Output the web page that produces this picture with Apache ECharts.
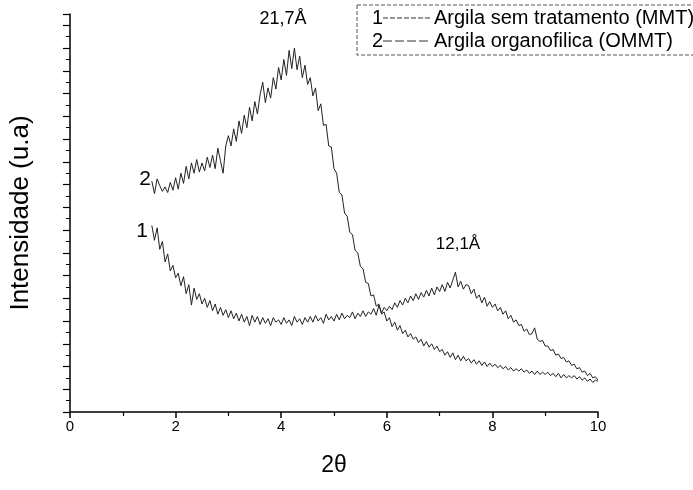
<!DOCTYPE html>
<html>
<head>
<meta charset="utf-8">
<script src="https://cdn.jsdelivr.net/npm/echarts@6/dist/echarts.min.js"></script>
<style>html,body{margin:0;padding:0;background:#fff}#c{width:693px;height:490px}</style>
</head>
<body>
<div id="c"></div>
<script>
var twoTheta = [
 1.55,1.60,1.65,1.70,1.75,1.80,1.85,1.90,1.95,2.00,
 2.05,2.10,2.15,2.20,2.25,2.30,2.35,2.40,2.45,2.50,
 2.55,2.60,2.65,2.70,2.75,2.80,2.85,2.90,2.95,3.00,
 3.05,3.10,3.15,3.20,3.25,3.30,3.35,3.40,3.45,3.50,
 3.55,3.60,3.65,3.70,3.75,3.80,3.85,3.90,3.95,4.00,
 4.05,4.10,4.15,4.20,4.25,4.30,4.35,4.40,4.45,4.50,
 4.55,4.60,4.65,4.70,4.75,4.80,4.85,4.90,4.95,5.00,
 5.05,5.10,5.15,5.20,5.25,5.30,5.35,5.40,5.45,5.50,
 5.55,5.60,5.65,5.70,5.75,5.80,5.85,5.90,5.95,6.00,
 6.05,6.10,6.15,6.20,6.25,6.30,6.35,6.40,6.45,6.50,
 6.55,6.60,6.65,6.70,6.75,6.80,6.85,6.90,6.95,7.00,
 7.05,7.10,7.15,7.20,7.25,7.30,7.35,7.40,7.45,7.50,
 7.55,7.60,7.65,7.70,7.75,7.80,7.85,7.90,7.95,8.00,
 8.05,8.10,8.15,8.20,8.25,8.30,8.35,8.40,8.45,8.50,
 8.55,8.60,8.65,8.70,8.75,8.80,8.85,8.90,8.95,9.00,
 9.05,9.10,9.15,9.20,9.25,9.30,9.35,9.40,9.45,9.50,
 9.55,9.60,9.65,9.70,9.75,9.80,9.85,9.90,9.95,10.00
];
// 1 - Argila sem tratamento (MMT)
var intensityMMT = [
 16.4,15.1,16.2,14.3,15.0,13.2,13.9,12.4,12.9,11.8,
 12.2,11.1,11.9,10.4,11.2,9.4,10.9,9.9,10.4,9.5,
 10.0,9.2,9.8,8.9,9.5,8.6,9.2,8.5,9.0,8.3,
 8.9,8.2,8.7,8.0,8.6,7.9,8.4,7.6,8.5,7.9,
 8.4,7.7,8.3,7.8,8.2,7.6,8.3,7.9,8.1,7.7,
 8.3,7.8,8.1,7.6,8.4,7.9,8.2,7.7,8.3,7.9,
 8.4,7.9,8.5,8.0,8.3,7.8,8.6,8.1,8.4,8.0,
 8.6,8.1,8.7,8.2,8.5,8.3,8.8,8.2,8.7,8.4,
 8.9,8.4,8.8,8.6,9.1,8.5,9.4,8.7,9.2,8.9,
 9.3,9.0,9.6,9.2,9.8,9.4,10.0,9.6,10.2,9.8,
 10.4,9.9,10.5,10.1,10.7,10.2,10.9,10.3,11.0,10.6,
 11.2,10.6,11.4,10.9,11.6,12.3,11.0,11.5,10.8,11.2,
 11.1,10.4,10.8,10.0,10.3,9.6,10.1,9.3,9.7,9.2,
 9.5,8.9,9.2,8.6,8.9,8.2,8.5,7.9,8.1,7.6,
 7.7,7.1,7.3,6.8,6.9,7.4,6.4,6.2,6.3,5.8,
 5.8,5.4,5.5,5.0,5.1,4.7,4.8,4.4,4.5,4.1,
 4.2,3.8,3.9,3.5,3.6,3.2,3.4,3.0,3.1,2.8
];
// 2 - Argila organofilica (OMMT)
var intensityOMMT = [
 20.3,19.2,20.5,19.9,19.4,19.8,19.3,20.2,19.5,20.6,
 19.6,21.0,20.1,21.6,20.5,21.9,21.0,22.2,21.1,21.9,
 21.2,22.4,21.5,22.6,21.4,23.2,22.1,21.0,23.4,24.3,
 23.4,24.9,23.8,25.6,24.5,26.1,25.0,26.8,25.6,27.3,
 26.2,27.9,29.0,27.2,28.5,27.6,29.4,28.4,30.3,29.2,
 31.0,29.6,31.8,30.2,32.0,30.1,31.3,29.4,30.5,28.8,
 29.4,27.8,28.5,26.5,27.1,25.2,25.3,23.4,23.3,21.4,
 21.0,19.3,19.1,17.5,17.2,15.8,15.6,14.2,14.0,12.8,
 12.6,11.4,11.3,10.2,10.3,9.3,9.5,8.6,8.8,8.0,
 8.3,7.5,7.9,7.2,7.6,6.9,7.2,6.6,6.9,6.4,
 6.6,6.1,6.4,5.8,6.2,5.7,6.0,5.5,5.8,5.3,
 5.5,5.0,5.3,4.8,5.2,4.6,5.0,4.5,4.9,4.5,
 4.7,4.3,4.6,4.2,4.5,4.1,4.4,4.0,4.3,4.0,
 4.2,3.9,4.1,3.8,4.0,3.7,3.9,3.6,3.8,3.6,
 3.8,3.5,3.7,3.4,3.6,3.3,3.6,3.3,3.5,3.3,
 3.5,3.2,3.4,3.1,3.4,3.0,3.3,3.0,3.2,3.0,
 3.2,2.9,3.1,2.8,3.0,2.7,2.9,2.6,2.8,2.7
];
var seriesNames = ['Argila sem tratamento (MMT)', 'Argila organofilica (OMMT)'];
var peakLabels = ['21,7Å', '12,1Å'];
var xTitle = '2θ';
var yTitle = 'Intensidade (u.a)';

function pairs(xs, ys) { return xs.map(function (x, i) { return [x, ys[i]]; }); }

var FONT = 'Liberation Sans, Arial, sans-serif';
var chart = echarts.init(document.getElementById('c'), null, { renderer: 'canvas' });
chart.setOption({
  animation: false,
  backgroundColor: '#fff',
  grid: { left: 68, right: 95, top: 14, bottom: 78, containLabel: false },
  xAxis: {
    type: 'value', min: 0, max: 10, interval: 2,
    name: xTitle, nameLocation: 'middle', nameGap: 42,
    nameTextStyle: { fontSize: 23, color: '#000', fontFamily: FONT },
    axisLine: { lineStyle: { color: '#000', width: 1.5 } },
    axisTick: { inside: false, length: 6, lineStyle: { color: '#000', width: 1.5 } },
    minorTick: { show: true, splitNumber: 2, length: 4, lineStyle: { color: '#000', width: 1.2 } },
    axisLabel: { fontSize: 15, color: '#000', fontFamily: FONT, margin: 7 },
    splitLine: { show: false }
  },
  yAxis: {
    type: 'value', min: 0, max: 35, interval: 2,
    name: yTitle, nameLocation: 'middle', nameGap: 36, nameRotate: 90,
    nameTextStyle: { fontSize: 26, color: '#000', fontFamily: FONT },
    axisLine: { lineStyle: { color: '#000', width: 1.5 } },
    axisTick: { inside: false, length: 7, lineStyle: { color: '#000', width: 1.2 } },
    minorTick: { show: true, splitNumber: 2, length: 4, lineStyle: { color: '#000', width: 1 } },
    axisLabel: { show: false },
    splitLine: { show: false }
  },
  series: [
    { name: seriesNames[0], type: 'line', showSymbol: false, data: pairs(twoTheta, intensityMMT),
      lineStyle: { color: '#222', width: 1 } },
    { name: seriesNames[1], type: 'line', showSymbol: false, data: pairs(twoTheta, intensityOMMT),
      lineStyle: { color: '#222', width: 1 } }
  ],
  graphic: [
    { type: 'rect', shape: { x: 357, y: 5, width: 345, height: 50 },
      style: { fill: 'none', stroke: '#555', lineWidth: 1, lineDash: [4, 2] } },
    { type: 'text', x: 372, y: 18, style: { text: '1', font: '20px ' + FONT, fill: '#000', textVerticalAlign: 'middle' } },
    { type: 'line', shape: { x1: 383, y1: 18, x2: 430, y2: 18 }, style: { stroke: '#333', lineWidth: 1, lineDash: [5, 2] } },
    { type: 'text', x: 434, y: 18, style: { text: seriesNames[0], font: '20px ' + FONT, fill: '#000', textVerticalAlign: 'middle' } },
    { type: 'text', x: 372, y: 41, style: { text: '2', font: '20px ' + FONT, fill: '#000', textVerticalAlign: 'middle' } },
    { type: 'line', shape: { x1: 383, y1: 41, x2: 430, y2: 41 }, style: { stroke: '#333', lineWidth: 1, lineDash: [9, 3] } },
    { type: 'text', x: 434, y: 41, style: { text: seriesNames[1], font: '20px ' + FONT, fill: '#000', textVerticalAlign: 'middle' } },
    { type: 'text', x: 283, y: 19, style: { text: peakLabels[0], font: '18px ' + FONT, fill: '#000', textAlign: 'center', textVerticalAlign: 'middle' } },
    { type: 'text', x: 458, y: 244, style: { text: peakLabels[1], font: '17px ' + FONT, fill: '#000', textAlign: 'center', textVerticalAlign: 'middle' } },
    { type: 'text', x: 145, y: 179, style: { text: '2', font: '21px ' + FONT, fill: '#000', textAlign: 'center', textVerticalAlign: 'middle' } },
    { type: 'text', x: 142, y: 231, style: { text: '1', font: '21px ' + FONT, fill: '#000', textAlign: 'center', textVerticalAlign: 'middle' } }
  ]
});
</script>
</body>
</html>
